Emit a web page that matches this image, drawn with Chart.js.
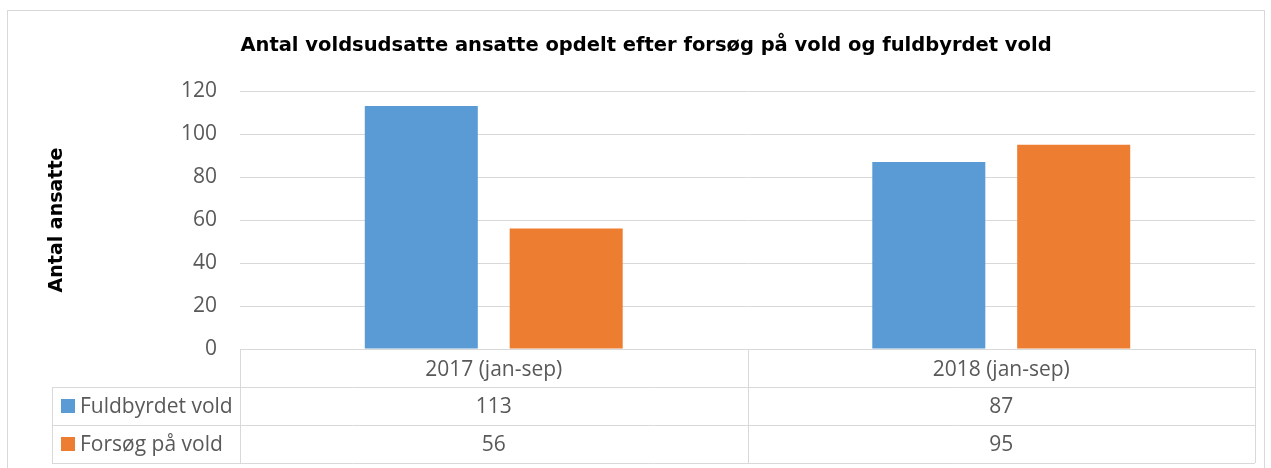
<!DOCTYPE html>
<html>
<head>
<meta charset="utf-8">
<script src="https://cdn.jsdelivr.net/npm/chart.js@4"></script>
<style>
  body { margin: 0; background: #fff; }
  #wrap { position: relative; width: 1271px; height: 468px; }
</style>
</head>
<body>
<div id="wrap"><canvas id="myChart" width="1271" height="468"></canvas></div>
<script>
const kategorier = ['2017 (jan-sep)', '2018 (jan-sep)']
const fuldbyrdet = [113, 87]
const forsoeg = [56, 95]
const serieNavne = ['Fuldbyrdet vold', 'Forsøg på vold']
const farver = ['#5B9BD5', '#ED7D31']
const titel = 'Antal voldsudsatte ansatte opdelt efter forsøg på vold og fuldbyrdet vold'

const tickFont = '"Open Sans"'
const tickSize = 21
const graa = '#595959'
const linje = '#d9d9d9'

// tegner titel, ramme og datatabellen under x-aksen
const tabelPlugin = {
    id: 'tabel',
    afterDraw(chart) {
        const c = chart.ctx
        const x = chart.scales.x
        const area = chart.chartArea
        const rowH = 38
        const top = area.bottom
        const rows = [top, top + rowH, top + 2 * rowH, top + 3 * rowH]
        const labelLeft = 52
        c.save()
        c.strokeStyle = linje
        c.lineWidth = 1
        // ydre ramme
        c.strokeRect(7.5, 10.5, 1257, 470)
        c.beginPath()
        c.moveTo(area.left, rows[0] + 0.5); c.lineTo(area.right, rows[0] + 0.5)
        for (let i = 1; i < rows.length; i++) {
            c.moveTo(labelLeft, Math.round(rows[i]) + 0.5)
            c.lineTo(area.right, Math.round(rows[i]) + 0.5)
        }
        c.moveTo(labelLeft + 0.5, rows[1]); c.lineTo(labelLeft + 0.5, rows[3])
        const skel = [area.left, (x.getPixelForValue(0) + x.getPixelForValue(1)) / 2, area.right]
        for (const sx of skel) {
            c.moveTo(Math.round(sx) + 0.5, rows[0]); c.lineTo(Math.round(sx) + 0.5, rows[3])
        }
        c.stroke()

        c.font = tickSize + 'px ' + tickFont
        c.textBaseline = 'middle'
        chart.data.datasets.forEach((ds, i) => {
            const cy = (rows[i + 1] + rows[i + 2]) / 2
            c.fillStyle = ds.backgroundColor
            c.fillRect(61, cy - 7, 14, 14)
            c.fillStyle = graa
            c.textAlign = 'left'
            c.fillText(ds.label, 80, cy + 1)
            c.textAlign = 'center'
            ds.data.forEach((v, j) => {
                c.fillText(String(v), x.getPixelForValue(j), cy + 1)
            })
        })

        c.fillStyle = '#000'
        c.font = 'bold 19.5px "DejaVu Sans"'
        c.textAlign = 'center'
        c.fillText(titel, 646, 46)
        c.restore()
    }
}

new Chart(document.getElementById('myChart'), {
    type: 'bar',
    data: {
        labels: kategorier,
        datasets: [{
            label: serieNavne[0],
            data: fuldbyrdet,
            backgroundColor: farver[0]
        }, {
            label: serieNavne[1],
            data: forsoeg,
            backgroundColor: farver[1]
        }]
    },
    options: {
        responsive: false,
        animation: false,
        devicePixelRatio: 1,
        categoryPercentage: 0.571,
        barPercentage: 0.78,
        layout: { padding: { top: 91, left: 0, right: 16, bottom: 0 } },
        plugins: {
            legend: { display: false },
            tooltip: { enabled: false }
        },
        scales: {
            x: {
                grid: { display: false },
                border: { display: false },
                ticks: { color: graa, font: { family: tickFont, size: tickSize }, padding: 0 },
                afterFit(scale) { scale.height = 119 }
            },
            y: {
                min: 0,
                max: 120,
                ticks: { stepSize: 20, color: graa, font: { family: tickFont, size: tickSize }, padding: 23 },
                grid: { color: linje, drawTicks: false },
                border: { display: false },
                title: {
                    display: true,
                    text: 'Antal ansatte',
                    color: '#000',
                    font: { family: 'DejaVu Sans', size: 19, weight: 'bold' },
                    padding: { top: 46, bottom: 0 }
                },
                afterFit(scale) { scale.width = 240 }
            }
        }
    },
    plugins: [tabelPlugin]
})
</script>
</body>
</html>
